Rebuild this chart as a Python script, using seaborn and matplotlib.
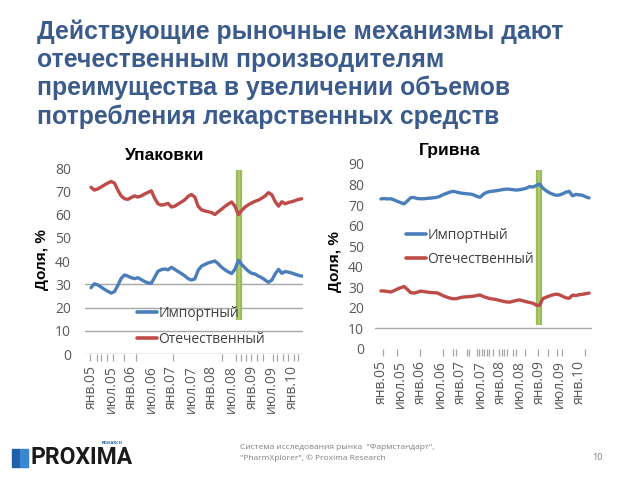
import numpy as np
import pandas as pd
import matplotlib
matplotlib.use("Agg")
import matplotlib.pyplot as plt
from matplotlib.lines import Line2D
from matplotlib.patches import Rectangle
import seaborn as sns

# ---------------- data ----------------
tick_labels = ['янв.05', 'июл.05', 'янв.06', 'июл.06', 'янв.07', 'июл.07',
               'янв.08', 'июл.08', 'янв.09', 'июл.09', 'янв.10']
series_names = ['Импортный', 'Отечественный']

# Упаковки (units), monthly Jan 2005 - Apr 2010, %
units_import = [28.5, 30.2, 29.7, 28.8, 27.8, 27.0, 26.2, 26.8, 29.5, 32.5, 34.0, 33.5,
                32.8, 32.4, 32.8, 32.0, 31.2, 30.6, 30.4, 33.0, 35.6, 36.3, 36.6, 36.2,
                37.3, 36.4, 35.5, 34.6, 33.6, 32.4, 31.8, 32.3, 36.0, 37.8, 38.5, 39.2,
                39.6, 40.0, 38.8, 37.3, 36.2, 35.3, 34.6, 36.5, 40.3, 38.5, 37.0, 35.6,
                34.7, 34.4, 33.5, 32.8, 31.8, 30.8, 31.8, 34.5, 36.4, 34.7, 35.5, 35.2,
                34.8, 34.3, 33.8, 33.5]
units_domestic = [71.7, 70.5, 71.0, 71.8, 72.7, 73.5, 74.2, 73.5, 70.5, 68.0, 66.8, 66.5,
                  67.3, 68.0, 67.5, 68.0, 68.8, 69.5, 70.2, 67.0, 64.6, 64.0, 64.3, 64.8,
                  63.2, 63.6, 64.5, 65.4, 66.3, 67.8, 68.6, 67.5, 63.5, 62.0, 61.5, 61.2,
                  60.8, 60.0, 61.2, 62.3, 63.5, 64.5, 65.4, 63.5, 60.0, 61.8, 63.2, 64.2,
                  65.0, 65.7, 66.2, 67.0, 68.0, 69.4, 68.5, 65.5, 63.6, 65.5, 64.6, 65.2,
                  65.5, 66.0, 66.5, 66.8]

# Гривна (value), monthly Jan 2005 - Apr 2010, %
uah_import = [73.0, 73.2, 73.0, 73.1, 72.5, 71.8, 71.2, 70.6, 72.0, 73.6, 73.7, 73.2,
              73.1, 73.1, 73.3, 73.4, 73.6, 73.8, 74.4, 75.2, 75.8, 76.4, 76.7, 76.3,
              75.9, 75.7, 75.5, 75.4, 75.0, 74.3, 73.8, 75.3, 76.2, 76.6, 76.8, 77.0,
              77.3, 77.6, 77.8, 77.7, 77.5, 77.3, 77.5, 77.8, 78.2, 79.0, 78.8, 79.5,
              80.3, 78.3, 77.0, 76.0, 75.3, 74.8, 74.9, 75.5, 76.3, 76.7, 74.5, 75.2,
              75.0, 74.8, 74.0, 73.5]
uah_domestic = [28.3, 28.2, 28.0, 27.7, 28.4, 29.2, 29.8, 30.4, 29.0, 27.4, 27.2, 27.6,
                28.2, 27.9, 27.7, 27.5, 27.4, 27.3, 26.6, 25.8, 25.2, 24.7, 24.4, 24.5,
                25.0, 25.3, 25.4, 25.5, 25.7, 26.0, 26.3, 25.5, 25.0, 24.5, 24.3, 24.0,
                23.6, 23.2, 22.9, 22.8, 23.2, 23.6, 23.9, 23.4, 23.0, 22.6, 22.3, 21.3,
                21.2, 24.5, 25.2, 25.8, 26.3, 26.7, 26.4, 25.6, 24.9, 24.7, 26.2, 26.0,
                26.4, 26.6, 26.9, 27.2]

# ---------------- style ----------------
sns.set_style("white")
plt.rcParams['font.family'] = ['Open Sans', 'DejaVu Sans']

BLUE = '#4a7ebb'
RED = '#be4b48'
GREEN = '#9bbb59'
GRID = '#a6a6a6'
TXT = '#595959'
palette = {series_names[0]: BLUE, series_names[1]: RED}

fig = plt.figure(figsize=(6.4, 4.8), dpi=100)
fig.patch.set_facecolor('white')


def make_df(imp, dom):
    n = len(imp)
    return pd.DataFrame({
        'month': list(range(n)) * 2,
        'value': list(imp) + list(dom),
        'series': [series_names[0]] * n + [series_names[1]] * n,
    })


def style_axis(ax, ylim, ytick_pad, minor_pos, grid_levels):
    ax.set_ylim(*ylim)
    ax.set_yticks(np.arange(0, ylim[1] + 1, 10))
    ax.tick_params(axis='y', length=0, pad=ytick_pad, labelsize=10, labelcolor=TXT)
    ax.set_xticks(np.arange(0, 61, 6))
    ax.set_xticklabels(tick_labels, rotation=90, fontsize=10, color=TXT)
    ax.tick_params(axis='x', which='major', length=0, pad=8, bottom=True)
    ax.set_xticks(minor_pos, minor=True)
    ax.tick_params(axis='x', which='minor', length=5, width=0.9, color=GRID,
                   direction='out', bottom=True)
    for s in ax.spines.values():
        s.set_visible(False)
    for g in grid_levels:
        ax.axhline(g, color=GRID, lw=1.0, zorder=1)
    ax.set_xlabel('')
    ax.set_ylabel('')
    ax.set_facecolor('none')


# ----- left chart: Упаковки -----
axL = fig.add_axes([85 / 640, 1 - 354 / 480, (303 - 85) / 640, (354 - 168) / 480])
sns.lineplot(data=make_df(units_import, units_domestic), x='month', y='value',
             hue='series', hue_order=series_names, palette=palette, lw=2.4,
             legend=False, ax=axL, zorder=3)
axL.set_xlim(-1.8, 63.3)
minorL = [-0.3, 1.7, 2.9, 4.9, 6.5, 9.7, 13.4, 24.4, 39.2, 43.2, 44.7, 46.3,
          47.7, 49.5, 51.4, 54.2, 55.4, 57.4, 58.9, 60.7, 61.9]
style_axis(axL, (0, 80), 10, minorL, [0, 10, 20, 30])
axL.plot([44.3, 44.3], [14.6, 79.1], color=GREEN, lw=4.5, solid_capstyle='butt', zorder=2)
axL.plot([44.3, 44.3], [14.6, 79.1], color='#b2cd78', lw=1.2, solid_capstyle='butt', zorder=2)

# ----- right chart: Гривна -----
axR = fig.add_axes([375 / 640, 1 - 349 / 480, (592 - 375) / 640, (349 - 164) / 480])
sns.lineplot(data=make_df(uah_import, uah_domestic), x='month', y='value',
             hue='series', hue_order=series_names, palette=palette, lw=2.4,
             legend=False, ax=axR, zorder=3)
axR.set_xlim(-1.8, 63.9)
minorR = [0.7, 4.8, 11.8, 18.9, 21.7, 22.7, 26.0, 26.8, 29.0, 29.8, 30.6, 31.3,
          32.0, 32.8, 33.8, 35.7, 36.5, 37.3, 38.1, 39.9, 40.8, 43.6, 47.7, 50.7,
          53.2, 54.9, 61.8]
style_axis(axR, (0, 90), 8, minorR, [10])
axR.plot([48.0, 48.0], [11.7, 87.3], color=GREEN, lw=4.5, solid_capstyle='butt', zorder=2)
axR.plot([48.0, 48.0], [11.7, 87.3], color='#b2cd78', lw=1.2, solid_capstyle='butt', zorder=2)

# legends
handles = [Line2D([], [], color=BLUE, lw=2.6), Line2D([], [], color=RED, lw=2.6)]
for ax, (lx, ly), sp in [(axL, (137, 306), 0.77), (axR, (406, 228), 0.62)]:
    leg = ax.legend(handles, series_names, loc='upper left',
                    bbox_to_anchor=(lx / 640, 1 - ly / 480),
                    bbox_transform=fig.transFigure, frameon=False, fontsize=10,
                    handlelength=1.45, handletextpad=0.1, labelspacing=sp,
                    borderpad=0, borderaxespad=0)
    for t in leg.get_texts():
        t.set_color('#404040')

# chart titles and y labels
BOLDF = ['Liberation Sans', 'DejaVu Sans']
fig.text(165 / 640, 1 - 155 / 480, 'Упаковки', ha='center', va='center',
         fontsize=12.5, fontweight='bold', color='black', family=BOLDF)
fig.text(450 / 640, 1 - 150 / 480, 'Гривна', ha='center', va='center',
         fontsize=12.5, fontweight='bold', color='black', family=BOLDF)
fig.text(42 / 640, 1 - 260 / 480, 'Доля, %', rotation=90, ha='center', va='center',
         fontsize=11, fontweight='bold', color='black', family=BOLDF)
fig.text(335 / 640, 1 - 262 / 480, 'Доля, %', rotation=90, ha='center', va='center',
         fontsize=11, fontweight='bold', color='black', family=BOLDF)

# slide title
fig.text(37 / 640, 1 - 19 / 480,
         'Действующие рыночные механизмы дают\nотечественным производителям\n'
         'преимущества в увеличении объемов\nпотребления лекарственных средств',
         ha='left', va='top', fontsize=17.8, fontweight='bold', color='#3b5b8c',
         family=['Liberation Sans', 'DejaVu Sans'], linespacing=1.22)

# footer
fig.text(240 / 640, 1 - 453 / 480,
         'Система исследования рынка  "Фармстандарт",\n"PharmXplorer", © Proxima Research',
         ha='left', va='center', fontsize=6, color='#7f7f7f', linespacing=1.5)
fig.text(597 / 640, 1 - 457 / 480, '10', ha='center', va='center', fontsize=6.5,
         color='#7f7f7f')
fig.patches.append(Rectangle((12 / 640, 1 - 467 / 480), 8 / 640, 18 / 480,
                             transform=fig.transFigure, color='#1f5fa8', zorder=5))
fig.patches.append(Rectangle((20 / 640, 1 - 467 / 480), 8 / 640, 18 / 480,
                             transform=fig.transFigure, color='#3a86d0', zorder=5))
fig.text(30 / 640, 1 - 457 / 480, 'PROXIMA', ha='left', va='center', fontsize=16.5,
         fontweight='bold', color='#1a1a1a', family=['Roboto', 'DejaVu Sans'])
fig.text(123 / 640, 1 - 443 / 480, 'RESEARCH', ha='right', va='center', fontsize=3,
         color='#1f5fa8', fontweight='bold')

fig.savefig('out.png', dpi=100, facecolor='white')
